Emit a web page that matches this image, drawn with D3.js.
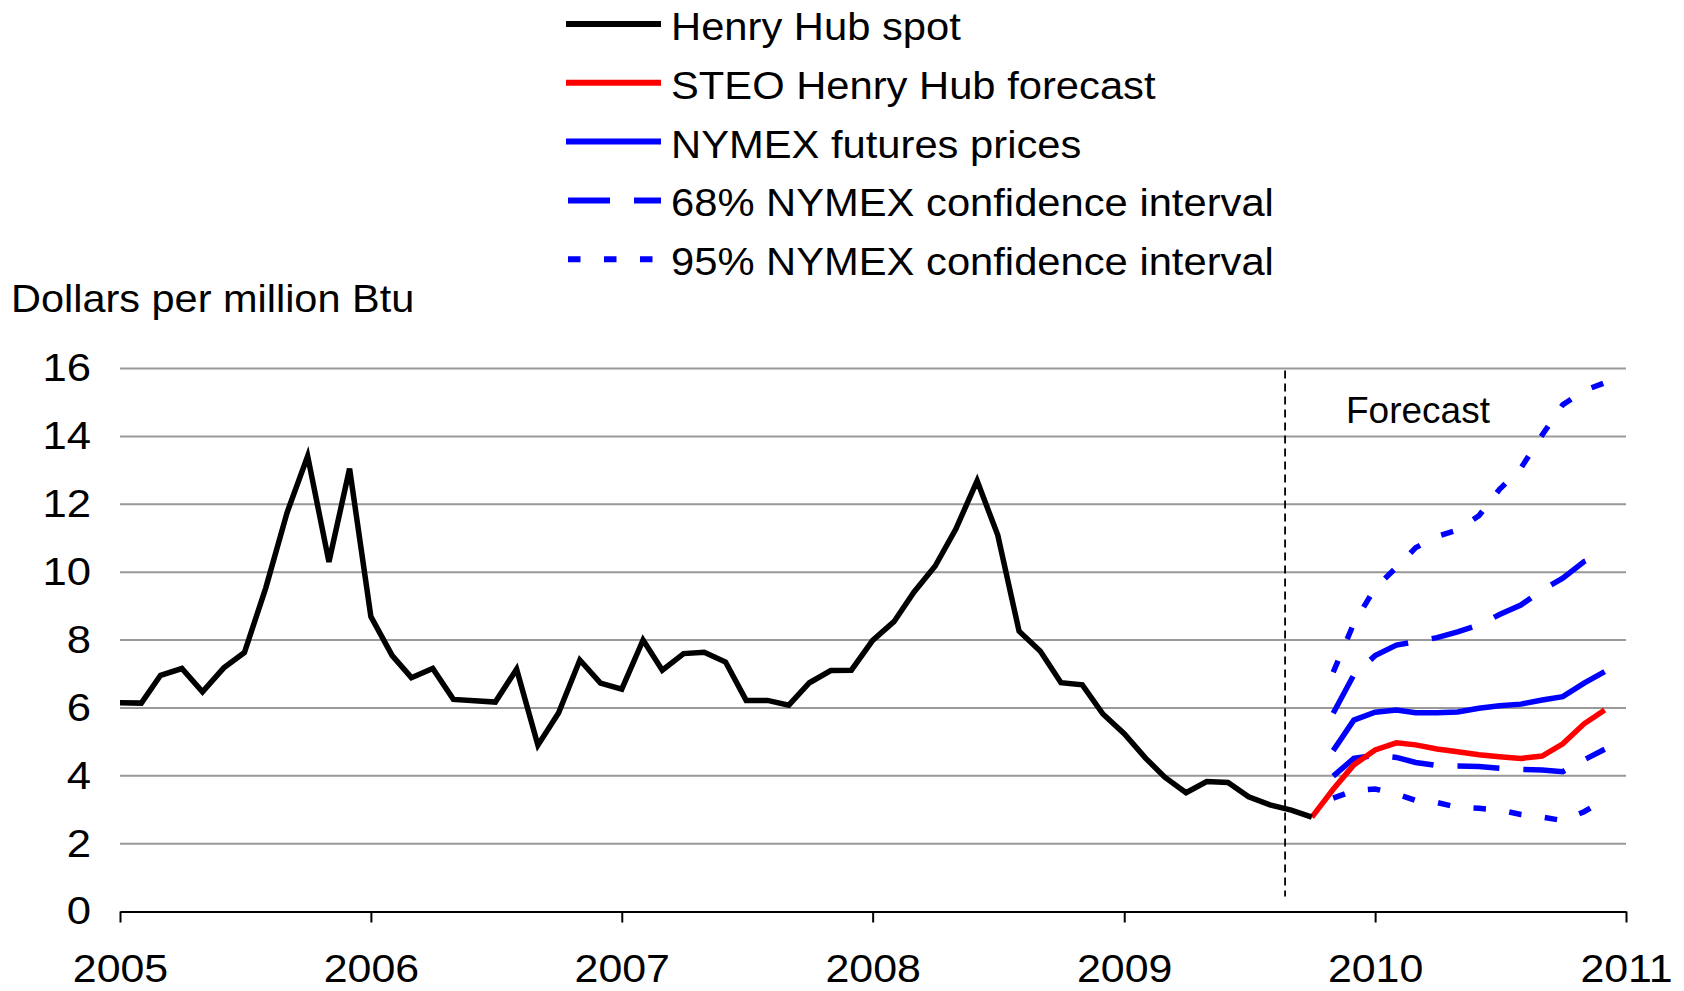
<!DOCTYPE html>
<html>
<head>
<meta charset="utf-8">
<script src="https://cdn.jsdelivr.net/npm/d3@7"></script>
<style>
  body { margin: 0; background: #fff; }
  text { font-family: "Liberation Sans", Arial, sans-serif; fill: #000; }
</style>
</head>
<body>
<div id="chart"></div>
<script>
// monthly Henry Hub spot, Jan 2005 - Oct 2009
var spot = [
  6.15, 6.14, 6.96, 7.16, 6.47, 7.18, 7.63, 9.53, 11.75, 13.42, 10.30, 13.05,
  8.69, 7.54, 6.89, 7.16, 6.25, 6.21, 6.17, 7.14, 4.90, 5.85, 7.41, 6.73,
  6.55, 8.00, 7.11, 7.60, 7.64, 7.35, 6.22, 6.22, 6.08, 6.74, 7.10, 7.11,
  7.99, 8.54, 9.41, 10.18, 11.27, 12.69, 11.09, 8.26, 7.67, 6.74, 6.68, 5.82,
  5.24, 4.52, 3.96, 3.50, 3.83, 3.80, 3.38, 3.14, 2.99, 2.78
]
// STEO forecast, Oct 2009 - Dec 2010
var steo = [2.78, 3.60, 4.32, 4.76, 4.97, 4.91, 4.79, 4.71, 4.62, 4.56, 4.51, 4.58, 4.94, 5.53, 5.94]
// NYMEX series, Nov 2009 - Dec 2010
var nymex = [4.74, 5.64, 5.87, 5.94, 5.86, 5.86, 5.88, 5.99, 6.06, 6.11, 6.23, 6.33, 6.73, 7.07]
var hi68 = [5.84, 6.97, 7.54, 7.85, 7.95, 8.07, 8.24, 8.44, 8.75, 9.03, 9.47, 9.82, 10.31, 10.59]
var lo68 = [3.99, 4.51, 4.60, 4.54, 4.39, 4.30, 4.29, 4.27, 4.22, 4.19, 4.17, 4.12, 4.47, 4.78]
var hi95 = [7.05, 8.49, 9.53, 10.14, 10.72, 11.05, 11.24, 11.66, 12.44, 13.06, 14.04, 14.93, 15.35, 15.58]
var lo95 = [3.34, 3.56, 3.61, 3.46, 3.27, 3.21, 3.07, 3.04, 2.99, 2.86, 2.78, 2.68, 2.94, 3.29]

var yTicks = [0, 2, 4, 6, 8, 10, 12, 14, 16]
var xYears = [2005, 2006, 2007, 2008, 2009, 2010, 2011]
var forecastDate = new Date(2009, 7, 23)

var legendItems = [
  {label: 'Henry Hub spot', color: '#000', dash: null},
  {label: 'STEO Henry Hub forecast', color: '#ff0000', dash: null},
  {label: 'NYMEX futures prices', color: '#0000ff', dash: null},
  {label: '68% NYMEX confidence interval', color: '#0000ff', dash: '42,24'},
  {label: '95% NYMEX confidence interval', color: '#0000ff', dash: '12.5,23.5'}
]

// turn a list of values into dated points starting at a given month
function monthly(vals, y, m){
  return vals.map(function(v, i){ return {date: new Date(y, m + i, 1), value: v} })
}

var W = 1684, H = 991
var margin = {left: 120, right: 58, top: 368.5, bottom: 79.5}
var width = W - margin.left - margin.right
var height = H - margin.top - margin.bottom

var svg = d3.select('#chart').append('svg')
  .attr('width', W).attr('height', H)

var g = svg.append('g').attr('transform', 'translate(' + margin.left + ',' + margin.top + ')')

var x = d3.scaleTime().domain([new Date(2005, 0, 1), new Date(2011, 0, 1)]).range([0, width])
var y = d3.scaleLinear().domain([0, 16]).range([height, 0])

// gridlines
g.append('g')
  .selectAll('line').data(yTicks.filter(function(d){ return d > 0 }))
  .enter().append('line')
  .attr('x1', 0).attr('x2', width)
  .attr('y1', function(d){ return y(d) }).attr('y2', function(d){ return y(d) })
  .attr('stroke', '#999').attr('stroke-width', 2)

// y axis labels (text is a bit wider in the original, so stretch it)
var yAxis = g.append('g')
  .call(d3.axisLeft(y).tickValues(yTicks).tickSize(0).tickFormat(d3.format('d')))
yAxis.select('.domain').remove()
yAxis.selectAll('text')
  .attr('font-size', 39).attr('font-family', null)
  .attr('x', 0)
  .attr('transform', 'translate(-29,0) scale(1.12,1)')

// x axis
var xAxis = g.append('g')
  .attr('transform', 'translate(0,' + height + ')')
  .call(d3.axisBottom(x)
    .tickValues(xYears.map(function(d){ return new Date(d, 0, 1) }))
    .tickSize(11).tickSizeOuter(0).tickPadding(32)
    .tickFormat(d3.timeFormat('%Y')))
xAxis.select('.domain').attr('stroke', '#000').attr('stroke-width', 2)
xAxis.selectAll('.tick line').attr('stroke', '#000').attr('stroke-width', 2)
xAxis.selectAll('text')
  .attr('font-size', 39).attr('font-family', null)
  .attr('transform', 'scale(1.1,1)')

// forecast divider
g.append('line')
  .attr('x1', x(forecastDate)).attr('x2', x(forecastDate))
  .attr('y1', 2).attr('y2', height - 15)
  .attr('stroke', '#000').attr('stroke-width', 1.8).attr('stroke-dasharray', '8,5')

g.append('text')
  .attr('x', 1346 - margin.left).attr('y', 422.7 - margin.top)
  .attr('font-size', 37)
  .text('Forecast')

var line = d3.line()
  .x(function(d){ return x(d.date) })
  .y(function(d){ return y(d.value) })

var series = [
  {data: monthly(lo95, 2009, 10), color: '#0000ff', dash: '12.5,23.5'},
  {data: monthly(hi95, 2009, 10), color: '#0000ff', dash: '12.5,23.5'},
  {data: monthly(lo68, 2009, 10), color: '#0000ff', dash: '42,24'},
  {data: monthly(hi68, 2009, 10), color: '#0000ff', dash: '42,24'},
  {data: monthly(nymex, 2009, 10), color: '#0000ff', dash: null},
  {data: monthly(steo, 2009, 9), color: '#ff0000', dash: null},
  {data: monthly(spot, 2005, 0), color: '#000', dash: null}
]

g.selectAll('path.series').data(series)
  .enter().append('path')
  .attr('class', 'series')
  .attr('d', function(d){ return line(d.data) })
  .attr('fill', 'none')
  .attr('stroke', function(d){ return d.color })
  .attr('stroke-width', 5.5)
  .attr('stroke-dasharray', function(d){ return d.dash })

// y axis title
svg.append('text')
  .attr('transform', 'translate(11,311.7) scale(1.05,1)')
  .attr('font-size', 39.5)
  .text('Dollars per million Btu')

// legend
var leg = svg.append('g').selectAll('g').data(legendItems)
  .enter().append('g')
  .attr('transform', function(d, i){ return 'translate(0,' + (24 + i * 58.8) + ')' })

leg.append('line')
  .attr('x1', function(d){ return d.dash ? 568 : 566 }).attr('x2', 661)
  .attr('stroke', function(d){ return d.color })
  .attr('stroke-width', 6)
  .attr('stroke-dasharray', function(d){ return d.dash })

leg.append('text')
  .attr('transform', 'translate(671,16) scale(1.07,1)')
  .attr('font-size', 39)
  .text(function(d){ return d.label })
</script>
</body>
</html>
